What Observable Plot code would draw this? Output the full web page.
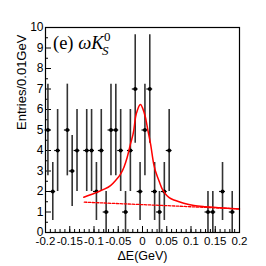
<!DOCTYPE html>
<html>
<head>
<meta charset="utf-8">
<script src="https://cdn.jsdelivr.net/npm/d3@7"></script>
<script src="https://cdn.jsdelivr.net/npm/@observablehq/plot@0.6"></script>
<style>
body { margin: 0; background: #fff; }
</style>
</head>
<body>
<div id="chart"></div>
<script>
// Data points: bin centers (GeV) and entries per 0.01 GeV
const dE = [-0.195,-0.185,-0.175,-0.155,-0.145,-0.135,-0.115,-0.105,-0.095,-0.085,-0.075,-0.065,-0.055,-0.045,-0.035,-0.025,-0.015,-0.005,0.005,0.015,0.025,0.035,0.045,0.055,0.135,0.145,0.165,0.185];
const entries = [5,2,4,5,3,4,4,4,2,4,1,5,5,4,1,4,7,2,5,7,2,1,2,4,1,1,2,1];

// Fit curve (total)
const fitX = [-0.121,-0.10,-0.093,-0.08,-0.066,-0.055,-0.045,-0.038,-0.0315,-0.025,-0.018,-0.0144,-0.01,-0.004,0.0,0.006,0.011,0.0165,0.023,0.0337,0.04,0.047,0.055,0.068,0.085,0.106,0.13,0.16,0.2];
const fitY = [1.72,1.9,1.97,2.1,2.29,2.55,2.86,3.2,3.67,4.3,4.98,5.62,6.0,6.24,6.08,5.62,5.0,4.33,3.35,2.54,2.15,1.89,1.7,1.56,1.43,1.32,1.26,1.21,1.15];

// Background (dashed)
const bkgX = [-0.12, 0.04, 0.2];
const bkgY = [1.48, 1.32, 1.15];

// Axis ticks
const xLabels = [-0.2,-0.15,-0.1,-0.05,0,0.05,0.1,0.15,0.2];
const xMinor = d3.range(-19, 20).map(i => i / 100);
const yLabels = [0,1,2,3,4,5,6,7,8,9,10];
const yMinor = d3.range(1, 20, 2).map(i => i / 2);

const pts = dE.map((x, i) => ({x, n: entries[i], lo: Math.max(0, entries[i] - Math.sqrt(entries[i])), hi: entries[i] + Math.sqrt(entries[i])}));
const fit = fitX.map((x, i) => ({x, y: fitY[i]}));
const bkg = bkgX.map((x, i) => ({x, y: bkgY[i]}));

const W = 266, H = 266, ML = 45, MR = 27, MT = 27, MB = 34;
const FW = W - ML - MR, FH = H - MT - MB;

const chart = Plot.plot({
  width: W, height: H,
  marginLeft: ML, marginRight: MR, marginTop: MT, marginBottom: MB,
  style: {fontFamily: "'Liberation Sans', Arial, sans-serif", background: "#fff"},
  x: {domain: [-0.2, 0.2]},
  y: {domain: [0, 10]},
  marks: [
    Plot.axisX(xLabels, {tickSize: 0, tickPadding: 4, fontSize: 11.5, tickFormat: d => String(d), label: null, color: "#000"}),
    Plot.axisY(yLabels, {tickSize: 0, tickPadding: 2, fontSize: 12, tickFormat: d => String(d), label: null, color: "#000"}),
    Plot.tickX(xMinor, {x: d => d, insetTop: FH - 3, stroke: "#000", strokeWidth: 1}),
    Plot.tickX(xLabels, {x: d => d, insetTop: FH - 6, stroke: "#000", strokeWidth: 1}),
    Plot.tickY(yMinor, {y: d => d, insetRight: FW - 3, stroke: "#000", strokeWidth: 1}),
    Plot.tickY(yLabels, {y: d => d, insetRight: FW - 6, stroke: "#000", strokeWidth: 1}),
    Plot.ruleX(pts, {x: "x", y1: "lo", y2: "hi", stroke: "#333", strokeWidth: 1.6}),
    Plot.ruleY(pts, {y: "n", x1: d => d.x - 0.006, x2: d => d.x + 0.006, stroke: "#000", strokeWidth: 1.2}),
    Plot.dot(pts, {x: "x", y: "n", r: 1.9, fill: "#000", stroke: null}),
    Plot.line(bkg, {x: "x", y: "y", stroke: "#ff0000", strokeWidth: 1.3, strokeDasharray: "2.5,1.5"}),
    Plot.line(fit, {x: "x", y: "y", stroke: "#ff0000", strokeWidth: 1.5, curve: "monotone-x"}),
    Plot.frame({stroke: "#000", strokeWidth: 1.2}),
    Plot.text(["ΔE(GeV)"], {frameAnchor: "bottom", dy: 27, fontSize: 12.5, fill: "#000"}),
    Plot.text(["Entries/0.01GeV"], {frameAnchor: "left", dx: -24, rotate: -90, fontSize: 13, fill: "#000"})
  ]
});
document.getElementById("chart").appendChild(chart);

// Panel label "(e) ωK_S^0" in serif
const svg = d3.select(chart);
const serif = "'Liberation Serif', 'DejaVu Serif', serif";
const g = svg.append("g").attr("fill", "#000");
const main = g.append("text").attr("x", 53).attr("y", 49)
  .style("font-family", serif).style("font-size", "18.5px").style("text-anchor", "start");
main.append("tspan").text("(e) ");
main.append("tspan").style("font-style", "italic").text("ωK");
const w = main.node().getComputedTextLength();
g.append("text").attr("x", 53 + w + 0.5).attr("y", 41)
  .style("font-family", serif).style("font-size", "13px").style("text-anchor", "start").text("0");
g.append("text").attr("x", 53 + w - 1.5).attr("y", 55)
  .style("font-family", serif).style("font-size", "13px").style("font-style", "italic").style("text-anchor", "start").text("S");
</script>
</body>
</html>
